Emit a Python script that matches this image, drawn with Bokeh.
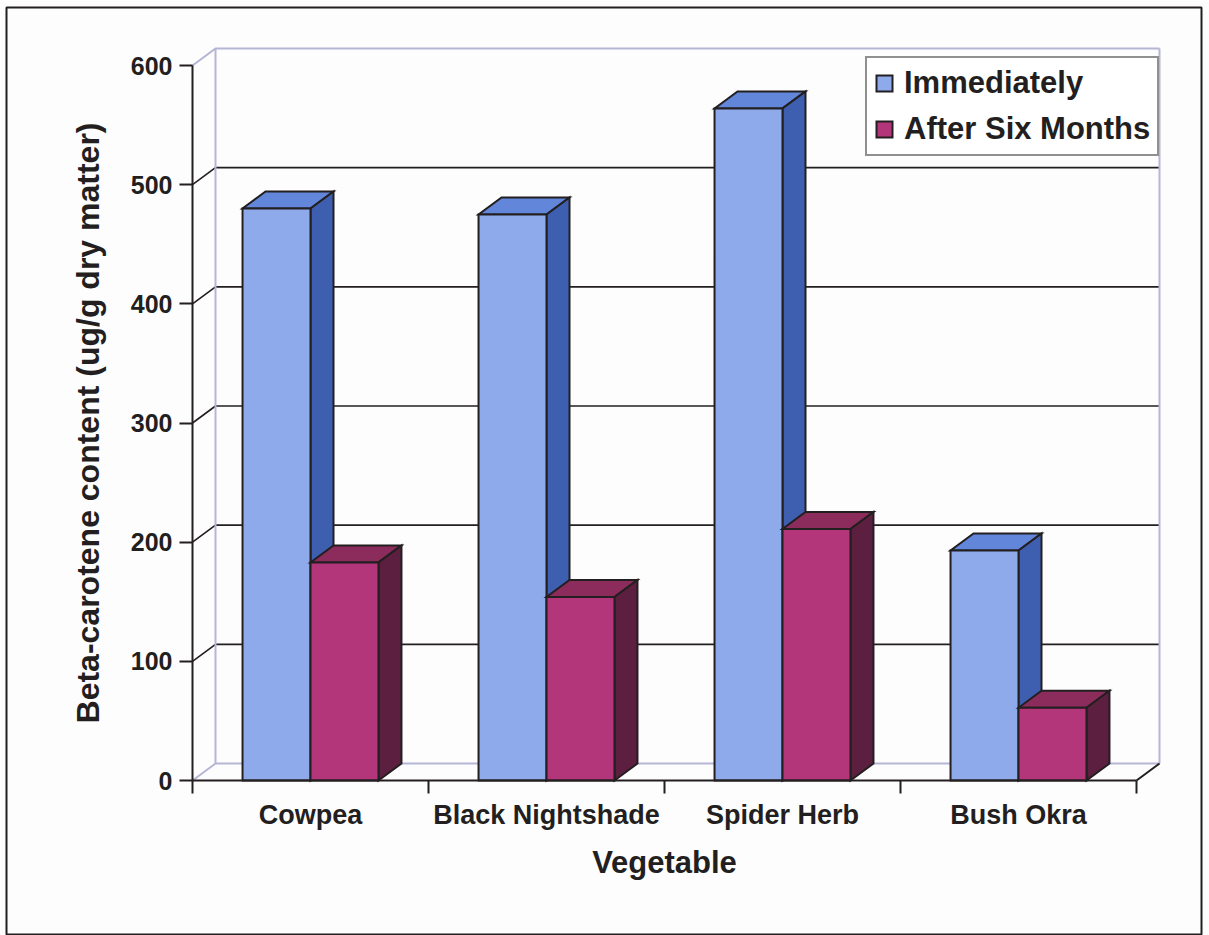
from bokeh.plotting import figure
from bokeh.models import (Range1d, LinearAxis, FixedTicker, ColumnDataSource,
                          Legend, LegendItem)
from bokeh.embed import file_html
from bokeh.resources import INLINE

# Beta-carotene content (ug/g dry matter) of dried vegetables
categories = ["Cowpea", "Black Nightshade", "Spider Herb", "Bush Okra"]
immediately = [480, 475, 564, 193]
after_six_months = [183, 154, 211, 61]
y_ticks = [0, 100, 200, 300, 400, 500, 600]
y_max = 600

# page / frame geometry (screen pixels)
W, H = 1209, 935
FRAME_L, FRAME_R, FRAME_T = 6, 8, 7
ORIGIN_X, ORIGIN_Y = 192, 780      # where (0, 0) lands
PX_PER_CAT = 236
PX_PER_UNIT = 715 / 600

# 3-D box look: depth offset in data units and bar width (category units)
DX = 23 / PX_PER_CAT
DY = 17 / PX_PER_UNIT
BAR_W = 0.288

INK = "#231f20"
WALL = "#b5b5d6"
FONT = "Liberation Sans"

BLUE = {"front": "#8faaea", "top": "#6186da", "side": "#3e5eb0"}
RED = {"front": "#b3367a", "top": "#8c2c5c", "side": "#5c1f40"}

fw = W - FRAME_L - FRAME_R
fh = H - FRAME_T
x0 = -(ORIGIN_X - FRAME_L) / PX_PER_CAT
y1 = (ORIGIN_Y - FRAME_T) / PX_PER_UNIT
x_range = Range1d(x0, x0 + fw / PX_PER_CAT)
y_range = Range1d(y1 - fh / PX_PER_UNIT, y1)

p = figure(width=W, height=H, output_backend="svg", toolbar_location=None,
           x_range=x_range, y_range=y_range,
           x_axis_location=None, y_axis_location=None,
           min_border_left=FRAME_L, min_border_right=FRAME_R,
           min_border_top=FRAME_T, min_border_bottom=0,
           background_fill_color="#fdfdfd", border_fill_color="#fdfdfd",
           outline_line_color=INK, outline_line_width=2)
p.grid.visible = False

n = len(categories)

# gridlines on the side wall and back wall
grid_vals = [v for v in y_ticks if 0 < v < y_max]
p.multi_line(xs=[[0, DX, n + DX] for _ in grid_vals],
             ys=[[v, v + DY, v + DY] for v in grid_vals],
             line_color=INK, line_width=1.6)

# wall and floor edges
p.multi_line(xs=[[0, DX, n + DX], [DX, DX], [n + DX, n + DX], [0, DX, n + DX]],
             ys=[[y_max, y_max + DY, y_max + DY], [DY, y_max + DY],
                 [DY, y_max + DY], [0, DY, DY]],
             line_color=WALL, line_width=2)
p.line(x=[n, n + DX], y=[0, DY], line_color=INK, line_width=2)


def box_faces(lefts, vals, pal):
    xs, ys, cols = [], [], []
    for xl, v in zip(lefts, vals):
        xr = xl + BAR_W
        xs.append([xl, xr, xr + DX, xl + DX])
        ys.append([v, v, v + DY, v + DY])
        cols.append(pal["top"])
        xs.append([xr, xr + DX, xr + DX, xr])
        ys.append([0, DY, v + DY, v])
        cols.append(pal["side"])
    return ColumnDataSource(dict(xs=xs, ys=ys, color=cols))


centers = [i + 0.5 for i in range(n)]
blue_left = [c - BAR_W for c in centers]
red_left = list(centers)

renderers = {}
for name, lefts, vals, pal in (("Immediately", blue_left, immediately, BLUE),
                               ("After Six Months", red_left, after_six_months, RED)):
    p.patches(xs="xs", ys="ys", fill_color="color", source=box_faces(lefts, vals, pal),
              line_color=INK, line_width=2, line_join="miter")
    renderers[name] = p.quad(left=lefts, right=[l + BAR_W for l in lefts],
                             bottom=0, top=vals, fill_color=pal["front"],
                             line_color=INK, line_width=2, line_join="miter")

# value axis
yaxis = LinearAxis(fixed_location=0, bounds=(0, y_max),
                   ticker=FixedTicker(ticks=y_ticks, minor_ticks=[]),
                   axis_label="Beta-carotene content (ug/g dry matter)")
# category axis: ticks between groups, labels at group centres
xaxis = LinearAxis(fixed_location=0, bounds=(0, n),
                   ticker=FixedTicker(ticks=centers, minor_ticks=list(range(n + 1))),
                   major_label_overrides={c: lab for c, lab in zip(centers, categories)},
                   axis_label="Vegetable")
for ax in (yaxis, xaxis):
    ax.axis_line_color = INK
    ax.axis_line_width = 2
    ax.major_tick_line_color = INK
    ax.major_tick_line_width = 2
    ax.minor_tick_line_color = INK
    ax.minor_tick_line_width = 2
    ax.major_tick_in = 0
    ax.minor_tick_in = 0
    ax.major_label_text_font = FONT
    ax.major_label_text_font_style = "bold"
    ax.major_label_text_color = INK
    ax.axis_label_text_font = FONT
    ax.axis_label_text_font_style = "bold"
    ax.axis_label_text_color = INK
    ax.axis_label_text_font_size = "32px"

yaxis.major_tick_out = 13
yaxis.minor_tick_out = 0
yaxis.major_label_text_font_size = "25px"
yaxis.major_label_standoff = 7
yaxis.axis_label_standoff = 22

xaxis.major_tick_out = 0
xaxis.minor_tick_out = 13
xaxis.major_label_text_font_size = "27px"
xaxis.major_label_standoff = 6
xaxis.axis_label_text_font_size = "31px"
xaxis.axis_label_standoff = 12

p.add_layout(yaxis, "left")
p.add_layout(xaxis, "below")

legend = Legend(items=[LegendItem(label=k, renderers=[r]) for k, r in renderers.items()],
                location=(865 - FRAME_L, H - 156), orientation="vertical",
                glyph_width=20, glyph_height=20, label_standoff=10,
                label_text_font=FONT, label_text_font_style="bold",
                label_text_font_size="31px", label_text_color=INK,
                label_height=33, spacing=10, padding=7, margin=0,
                border_line_color=INK, border_line_width=2,
                background_fill_color="white", background_fill_alpha=1)
p.add_layout(legend)

open("out.html", "w").write(file_html(p, INLINE))
